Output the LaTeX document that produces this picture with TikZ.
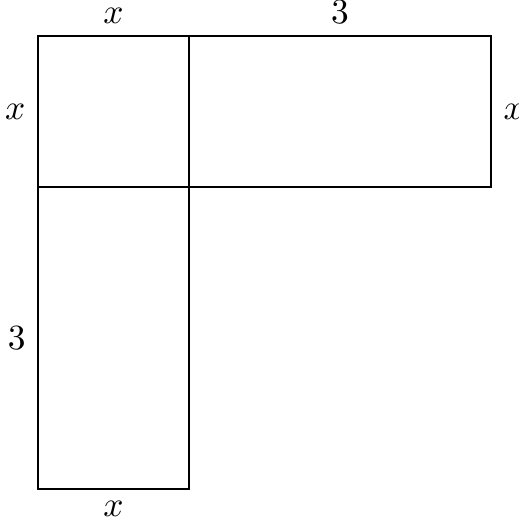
\documentclass[tikz,border=0pt]{standalone}
\usepackage{amsmath}
\usepackage{tikz}
\usetikzlibrary{positioning}

\begin{document}
\begin{tikzpicture}[box/.style={draw, inner sep=0pt, outer sep=0pt, anchor=north west}]
      \useasboundingbox (0,0) rectangle (5.154,5.194);

      \node[box, minimum width=1.5cm, minimum height=1.5cm] (sq) at (0.377,4.836) {};
      \node[box, minimum width=3cm, minimum height=1.5cm] (rt) at (sq.north east) {};
      \node[box, minimum width=1.5cm, minimum height=3cm] (bt) at (sq.south west) {};

      \node[above] (sqtop) at (sq.north) {$x$};
      \node[left] (sqleft) at (sq.west) {$x$};
      \node[above] (rttop) at (rt.north) {$3$};
      \node[right] (rtright) at (rt.east) {$x$};
      \node[left] (btleft) at (bt.west) {$3$};
      \node[below] (btbottom) at (bt.south) {$x$};
    \end{tikzpicture}
\end{document}
